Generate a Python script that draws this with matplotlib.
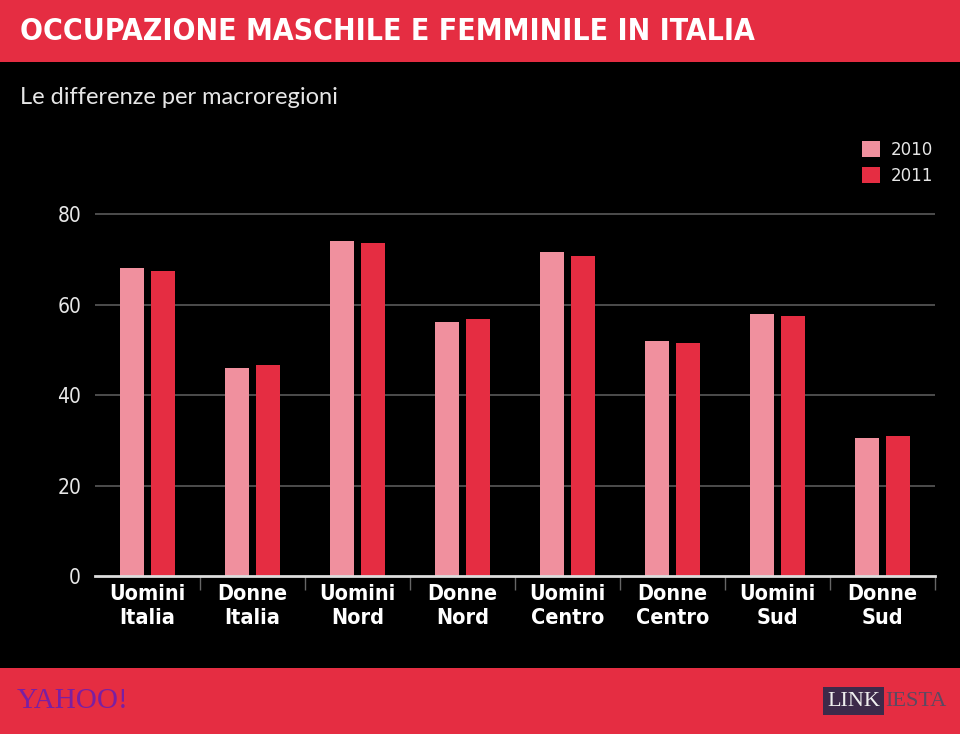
import numpy as np
import matplotlib
matplotlib.use("Agg")
import matplotlib.pyplot as plt
from matplotlib.patches import Rectangle

# data
categories = ["Uomini\nItalia", "Donne\nItalia", "Uomini\nNord", "Donne\nNord",
              "Uomini\nCentro", "Donne\nCentro", "Uomini\nSud", "Donne\nSud"]
values_2010 = [68.1, 46.0, 74.1, 56.2, 71.6, 51.9, 57.9, 30.5]
values_2011 = [67.5, 46.7, 73.7, 56.8, 70.8, 51.6, 57.5, 30.9]
series_labels = ["2010", "2011"]
y_ticks = [0, 20, 40, 60, 80]

RED = "#E52D42"
PINK = "#F0909E"

fig = plt.figure(figsize=(9.6, 7.34), dpi=100, facecolor="black")

# header and footer bands
fig.patches.append(Rectangle((0, 1 - 62 / 734), 1, 62 / 734, transform=fig.transFigure,
                             facecolor=RED, edgecolor="none", zorder=0))
fig.patches.append(Rectangle((0, 0), 1, 66 / 734, transform=fig.transFigure,
                             facecolor=RED, edgecolor="none", zorder=0))

fig.text(20 / 960, 1 - 32 / 734, "OCCUPAZIONE MASCHILE E FEMMINILE IN ITALIA",
         color="white", fontsize=21.6, fontweight="bold", family="DejaVu Sans",
         fontstretch="condensed", va="center", ha="left")
fig.text(20 / 960, 1 - 98 / 734, "Le differenze per macroregioni",
         color="#e6e6e6", fontsize=17, family=["Lato", "DejaVu Sans"],
         va="center", ha="left")

ax = fig.add_axes([95 / 960, 158 / 734, 840 / 960, 0.5239])
ax.set_facecolor("black")

x = np.arange(len(categories))
w = 0.23
ax.bar(x - 0.145, values_2010, w, color=PINK, label=series_labels[0], zorder=3)
ax.bar(x + 0.145, values_2011, w, color=RED, label=series_labels[1], zorder=3)

ax.set_xlim(-0.5, len(categories) - 0.5)
ax.set_ylim(0, 85)
ax.set_yticks(y_ticks)
ax.set_yticklabels([str(v) for v in y_ticks], color="#e6e6e6", fontsize=15,
                   family="DejaVu Sans", fontstretch="condensed")
ax.tick_params(axis="y", length=0, pad=10)
for v in y_ticks[1:]:
    ax.axhline(v, color="#5a5a5a", lw=1.2, zorder=1)

ax.set_xticks(x)
ax.set_xticklabels(categories, color="white", fontsize=15.5, fontweight="bold",
                   family="DejaVu Sans", fontstretch="condensed", linespacing=1.25)
ax.tick_params(axis="x", which="major", length=0, pad=6)
ax.set_xticks(np.arange(1, len(categories) + 1) - 0.5, minor=True)
ax.tick_params(axis="x", which="minor", length=10, width=1, color="#666666",
               direction="out")

for s in ["top", "right", "left"]:
    ax.spines[s].set_visible(False)
ax.spines["bottom"].set_color("#dddddd")
ax.spines["bottom"].set_linewidth(2)
ax.spines["bottom"].set_zorder(4)

leg = fig.legend(loc="upper left", bbox_to_anchor=(847 / 960, 1 - 126 / 734),
                 frameon=False, labelcolor="#e6e6e6", fontsize=12,
                 handlelength=1.1, handleheight=1.1, handletextpad=0.6,
                 labelspacing=0.45)

# footer logos
fig.text(17 / 960, 33 / 734, "YAHOO!", color="#7b1fa2", fontsize=21,
         family=["Liberation Serif", "DejaVu Serif"], va="center", ha="left")
fig.text(827 / 960, 33 / 734, "LINK", color="#eeeeee", fontsize=16,
         family=["Liberation Serif", "DejaVu Serif"], va="center", ha="left",
         bbox=dict(facecolor="#3d2a4a", edgecolor="none", pad=3))
fig.text(885 / 960, 33 / 734, "IESTA", color="#5a4a62", fontsize=16,
         family=["Liberation Serif", "DejaVu Serif"], va="center", ha="left")

fig.savefig("out.png", dpi=100, facecolor="black")
